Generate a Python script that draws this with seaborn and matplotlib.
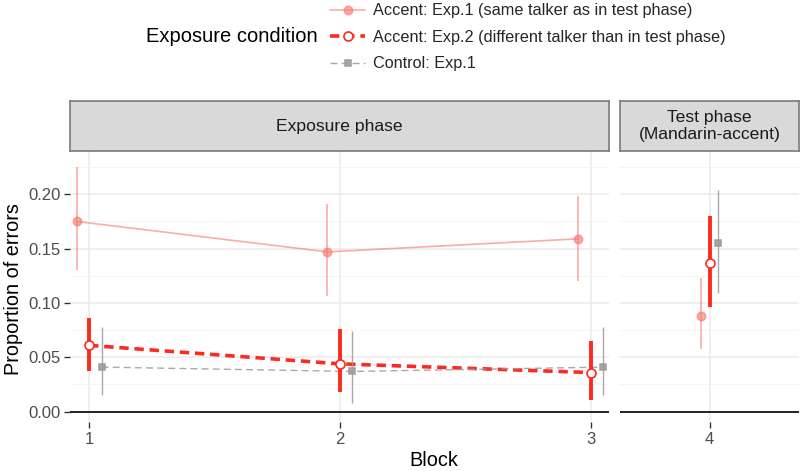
import numpy as np
import pandas as pd
import seaborn as sns
import matplotlib.pyplot as plt
from matplotlib.lines import Line2D

# ----- data -----
blocks = [1, 2, 3, 4]
conditions = ["Accent: Exp.1 (same talker as in test phase)",
              "Accent: Exp.2 (different talker than in test phase)",
              "Control: Exp.1"]

exp1_mean = [0.175, 0.147, 0.159, 0.088]
exp1_lo = [0.130, 0.106, 0.120, 0.058]
exp1_hi = [0.225, 0.191, 0.198, 0.123]

exp2_mean = [0.061, 0.044, 0.036, 0.137]
exp2_lo = [0.037, 0.018, 0.011, 0.096]
exp2_hi = [0.086, 0.076, 0.065, 0.180]

ctrl_mean = [0.041, 0.037, 0.041, 0.155]
ctrl_lo = [0.015, 0.008, 0.015, 0.109]
ctrl_hi = [0.078, 0.074, 0.078, 0.204]

df = pd.concat([
    pd.DataFrame({"block": blocks, "condition": c, "prop": m, "lo": lo, "hi": hi})
    for c, m, lo, hi in zip(conditions,
                            [exp1_mean, exp2_mean, ctrl_mean],
                            [exp1_lo, exp2_lo, ctrl_lo],
                            [exp1_hi, exp2_hi, ctrl_hi])
], ignore_index=True)

# ----- styles -----
dodge = {conditions[0]: -0.05, conditions[1]: 0.0, conditions[2]: 0.05}
style = {
    conditions[0]: dict(color="#F8766D", alpha=0.6, lw=1.2, ls="-", marker="o",
                        ms=6, mfc="#F8766D", ebw=1.2),
    conditions[1]: dict(color="#FF2A1F", alpha=1.0, lw=2.6, ls=(0, (2.6, 1.6)), marker="o",
                        ms=6.5, mfc="white", ebw=2.8),
    conditions[2]: dict(color="#9A9A9A", alpha=0.85, lw=1.0, ls=(0, (5, 3)), marker="s",
                        ms=5, mfc="#9A9A9A", ebw=1.0),
}
df["x"] = df["block"] + df["condition"].map(dodge)

sns.set_theme(style="white")
plt.rcParams['font.family'] = ['Liberation Sans', 'DejaVu Sans']

W, H = 800, 471
fig = plt.figure(figsize=(8, 4.71), dpi=100)

def px_axes(x0, y0, x1, y1):
    return fig.add_axes([x0 / W, 1 - y1 / H, (x1 - x0) / W, (y1 - y0) / H])

ax1 = px_axes(70, 151, 609, 422)
ax2 = px_axes(620, 151, 799, 422)

ylim = (-0.0095, 0.2398)
for ax, xl, xt in [(ax1, (0.924, 3.073), [1, 2, 3]), (ax2, (3.5, 4.5), [4])]:
    ax.set_xlim(*xl)
    ax.set_ylim(*ylim)
    ax.set_xticks(xt)
    ax.set_yticks([0, 0.05, 0.10, 0.15, 0.20])
    ax.set_yticks([0.025, 0.075, 0.125, 0.175, 0.225], minor=True)
    ax.grid(True, which="major", color="#EBEBEB", lw=1.1)
    ax.grid(True, which="minor", axis="y", color="#F2F2F2", lw=0.6)
    ax.set_axisbelow(True)
    for s in ax.spines.values():
        s.set_visible(False)
    ax.axhline(0, color="black", lw=1.2, zorder=1)
    ax.tick_params(axis="both", which="major", length=4, width=1, color="#333333",
                   labelsize=12, labelcolor="#4D4D4D", pad=3,
                   bottom=True, left=(ax is ax1))
    ax.tick_params(axis="both", which="minor", length=0)

ax1.set_yticklabels(["0.00", "0.05", "0.10", "0.15", "0.20"])
ax2.set_yticklabels([])

exposure = df[df["block"] <= 3]
test = df[df["block"] == 4]

for cond in conditions:
    st = style[cond]
    d = exposure[exposure["condition"] == cond]
    sns.lineplot(data=d, x="x", y="prop", ax=ax1, color=st["color"], alpha=st["alpha"],
                 linewidth=st["lw"], linestyle=st["ls"], zorder=3)
    for ax, dd in [(ax1, d), (ax2, test[test["condition"] == cond])]:
        ax.vlines(dd["x"], dd["lo"], dd["hi"], color=st["color"], alpha=st["alpha"],
                  lw=st["ebw"], zorder=4)
        sns.lineplot(data=dd, x="x", y="prop", ax=ax, color=st["color"], alpha=st["alpha"],
                     linestyle="none", marker=st["marker"], markersize=st["ms"],
                     markerfacecolor=st["mfc"], markeredgecolor=st["color"],
                     markeredgewidth=1.2, zorder=5)
for ax in (ax1, ax2):
    ax.set_xlabel("")
    ax.set_ylabel("")

# ----- strips -----
for (x0, x1), label in [((70, 609), "Exposure phase"),
                        ((620, 799), "Test phase\n(Mandarin-accent)")]:
    sax = px_axes(x0, 101, x1, 151)
    sax.set_facecolor("#D9D9D9")
    sax.set_xticks([])
    sax.set_yticks([])
    for s in sax.spines.values():
        s.set_visible(True)
        s.set_color("#7A7A7A")
        s.set_linewidth(1.2)
    sax.text(0.5, 0.5, label, ha="center", va="center", fontsize=12.6,
             color="#1A1A1A", linespacing=1.1, transform=sax.transAxes)

# ----- axis titles -----
fig.text(14 / W, 1 - 289 / H, "Proportion of errors", rotation=90, ha="center",
         va="center", fontsize=14.3, color="black")
fig.text(434 / W, 1 - 461 / H, "Block", ha="center", va="center", fontsize=14.3,
         color="black")

# ----- legend -----
handles = []
for cond in conditions:
    st = style[cond]
    handles.append(Line2D([], [], color=st["color"], alpha=st["alpha"], lw=st["lw"],
                          linestyle=st["ls"], marker=st["marker"], markersize=st["ms"],
                          markerfacecolor=st["mfc"], markeredgecolor=st["color"],
                          markeredgewidth=1.2))
fig.legend(handles, conditions, loc="upper left", bbox_to_anchor=(319 / W, 1.017),
           frameon=False, fontsize=11.7, handlelength=2.15, handletextpad=0.5,
           labelspacing=0.71, borderpad=0.2)
fig.text(232 / W, 1 - 36 / H, "Exposure condition", ha="center", va="center",
         fontsize=14.5, color="black")

plt.savefig("out.png", dpi=100)
